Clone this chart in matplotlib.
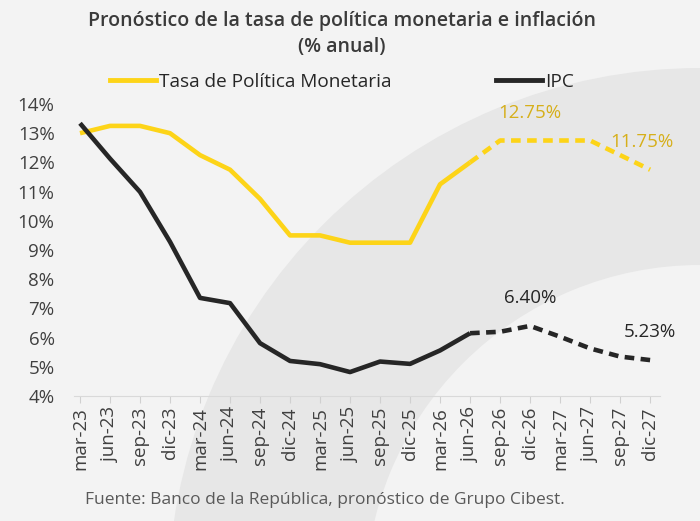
import matplotlib
matplotlib.use("Agg")
import matplotlib.pyplot as plt
from matplotlib.patches import Wedge
from matplotlib.lines import Line2D

plt.rcParams['font.family'] = ['Open Sans', 'DejaVu Sans']

# datos (% anual), trimestral
meses = ["mar-23", "jun-23", "sep-23", "dic-23", "mar-24", "jun-24", "sep-24", "dic-24",
         "mar-25", "jun-25", "sep-25", "dic-25", "mar-26", "jun-26", "sep-26", "dic-26",
         "mar-27", "jun-27", "sep-27", "dic-27"]
tpm = [13.0, 13.25, 13.25, 13.0, 12.25, 11.75, 10.75, 9.5, 9.5, 9.25, 9.25, 9.25,
       11.25, 12.0, 12.75, 12.75, 12.75, 12.75, 12.25, 11.75]
ipc = [13.34, 12.13, 10.99, 9.28, 7.36, 7.18, 5.81, 5.20, 5.09, 4.82, 5.18, 5.10,
       5.56, 6.15, 6.20, 6.40, 6.03, 5.63, 5.35, 5.23]
inicio_pronostico = 13  # jun-26
etiquetas_tpm = {15: "12.75%", 19: "11.75%"}
etiquetas_ipc = {15: "6.40%", 19: "5.23%"}
yticks = list(range(4, 15))

amarillo = "#FDD418"
negro = "#262626"
bg = "#f3f3f3"

fig = plt.figure(figsize=(7, 5.21), dpi=100, facecolor=bg)

# marca de agua de fondo
bgax = fig.add_axes([0, 0, 1, 1], zorder=-1)
bgax.set_xlim(0, 700)
bgax.set_ylim(521, 0)
bgax.axis("off")
bgax.add_patch(Wedge((700, 600), 532, 0, 360, width=197, color="#e7e7e7", lw=0))

ax = fig.add_axes([74 / 700, 125 / 521, 586 / 700, 292 / 521])
ax.set_facecolor("none")

x = list(range(len(meses)))
k = inicio_pronostico
ax.plot(x[:k + 1], tpm[:k + 1], color=amarillo, lw=3.3, solid_capstyle="butt", solid_joinstyle="round")
ax.plot(x[k:], tpm[k:], color=amarillo, lw=3.3, ls=(0, (2.1, 1.4)))
ax.plot(x[:k + 1], ipc[:k + 1], color=negro, lw=3.3, solid_capstyle="butt", solid_joinstyle="round")
ax.plot(x[k:], ipc[k:], color=negro, lw=3.3, ls=(0, (2.1, 1.4)))

for i, t in etiquetas_tpm.items():
    ax.annotate(t, (x[i], tpm[i]), xytext=(-6 if i == 19 else 0, 20), textcoords="offset points",
                ha="center", va="center", fontsize=13.5, color="#D6AF1A", fontweight="medium")
for i, t in etiquetas_ipc.items():
    ax.annotate(t, (x[i], ipc[i]), xytext=(0, 20), textcoords="offset points",
                ha="center", va="center", fontsize=13.5, color=negro, fontweight="medium")

ax.set_xlim(-0.2, 19.33)
ax.set_ylim(4, 14)
ax.set_xticks(x)
ax.set_xticklabels(meses, rotation=90, fontsize=13.5, color="#404040")
ax.set_yticks(yticks)
ax.set_yticklabels([f"{v}%" for v in yticks], fontsize=13.5, color="#404040")
ax.tick_params(axis="y", length=0, pad=14)
ax.tick_params(axis="x", length=5, color="#d0d0d0", pad=3)
for s in ["top", "right", "left"]:
    ax.spines[s].set_visible(False)
ax.spines["bottom"].set_color("#d9d9d9")

fig.text(342 / 700, 1 - 34 / 521, "Pronóstico de la tasa de política monetaria e inflación\n(% anual)",
         ha="center", va="center", fontsize=14, fontweight="semibold", color="#3a3a3a", linespacing=1.35)

handles = [Line2D([], [], color=amarillo, lw=3.5), Line2D([], [], color=negro, lw=3.5)]
fig.legend(handles, ["Tasa de Política Monetaria", "IPC"], loc="center",
           bbox_to_anchor=(342 / 700, 1 - 82 / 521), ncol=2, frameon=False,
           fontsize=13.7, handlelength=2.4, handletextpad=0.15, columnspacing=5.5,
           labelcolor="#262626")

fig.text(85 / 700, 1 - 500 / 521, "Fuente: Banco de la República, pronóstico de Grupo Cibest.",
         ha="left", va="center", fontsize=12.5, color="#595959")

fig.savefig("out.png", dpi=100, facecolor=bg)
